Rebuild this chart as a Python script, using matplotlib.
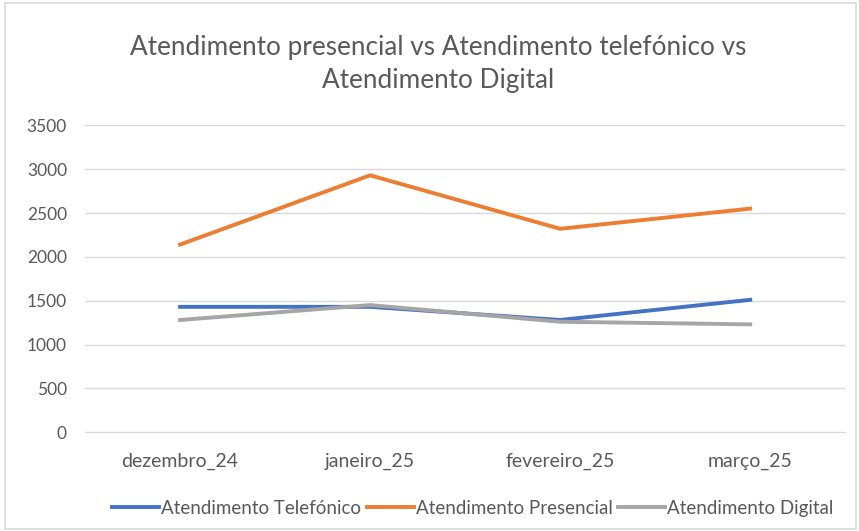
import matplotlib.pyplot as plt
from matplotlib.patches import Rectangle

plt.rcParams['font.family'] = ['Lato', 'DejaVu Sans']

meses = ['dezembro_24', 'janeiro_25', 'fevereiro_25', 'março_25']
telefonico = [1430, 1430, 1280, 1510]
presencial = [2140, 2930, 2320, 2550]
digital = [1280, 1450, 1260, 1230]

txt = '#595959'

fig = plt.figure(figsize=(8.59, 5.31), dpi=100)
fig.patches.append(Rectangle((0.006, 0.004), 0.99, 0.99, transform=fig.transFigure,
                             fill=False, edgecolor='#d9d9d9', linewidth=1.2))
ax = fig.add_axes([0.099, 0.186, 0.885, 0.578])

x = range(len(meses))
ax.plot(x, telefonico, color='#4472C4', linewidth=2.8, label='Atendimento Telefónico')
ax.plot(x, presencial, color='#ED7D31', linewidth=2.8, label='Atendimento Presencial')
ax.plot(x, digital, color='#A5A5A5', linewidth=2.8, label='Atendimento Digital')

ax.set_xlim(-0.5, 3.5)
ax.set_ylim(0, 3500)
ax.set_yticks(range(0, 3501, 500))
ax.set_xticks(list(x))
ax.set_xticklabels(meses)
ax.grid(axis='y', color='#d9d9d9', linewidth=1)
ax.set_axisbelow(True)
for s in ['top', 'right', 'left']:
    ax.spines[s].set_visible(False)
ax.spines['bottom'].set_color('#d9d9d9')
ax.tick_params(length=0, colors=txt)
ax.tick_params(axis='x', pad=15, labelsize=14)
ax.tick_params(axis='y', pad=13, labelsize=12.5)

fig.text(0.51, 0.88, 'Atendimento presencial vs Atendimento telefónico vs\nAtendimento Digital',
         ha='center', va='center', fontsize=18.8, color=txt, linespacing=1.4)

ax.legend(loc='upper center', bbox_to_anchor=(0.51, -0.165), ncol=3, frameon=False,
          fontsize=13.5, labelcolor=txt, handlelength=2.5, handletextpad=0.1, columnspacing=0.3)

plt.savefig('out.png')
